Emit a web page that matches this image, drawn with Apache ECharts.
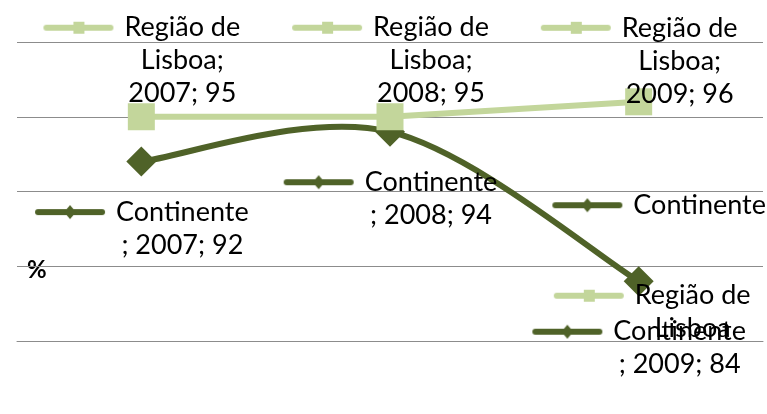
<!DOCTYPE html>
<html>
<head>
<meta charset="utf-8">
<script src="https://cdn.jsdelivr.net/npm/echarts@6/dist/echarts.min.js"></script>
<style>
  html, body { margin: 0; padding: 0; background: #fff; }
  #chart { width: 767px; height: 414px; }
</style>
</head>
<body>
<div id="chart"></div>
<script>
// Data
const years = ['2007', '2008', '2009'];
const lisboaName = 'Região de Lisboa';
const continenteName = 'Continente';
const lisboa = [95, 95, 96];
const continente = [92, 94, 84];
const yMin = 80, yMax = 100, yStep = 5;
const unitLabel = '%';

const lightGreen = '#c3d69b';
const darkGreen = '#4f6228';
const font = 'Lato, "Noto Sans", sans-serif';

// Small legend key (line with a marker) drawn on a canvas, used inside labels
function keyCanvas(color, shape) {
  const c = document.createElement('canvas');
  c.width = 82; c.height = 16;
  const g = c.getContext('2d');
  g.strokeStyle = color; g.fillStyle = color;
  g.lineWidth = 6; g.lineCap = 'round';
  g.beginPath(); g.moveTo(4, 8); g.lineTo(68, 8); g.stroke();
  if (shape === 'rect') {
    g.fillRect(31, 2, 11, 12);
  } else {
    g.beginPath();
    g.moveTo(36, 1); g.lineTo(42, 8); g.lineTo(36, 15); g.lineTo(30, 8);
    g.closePath(); g.fill();
  }
  return c;
}
const keyL = keyCanvas(lightGreen, 'rect');
const keyC = keyCanvas(darkGreen, 'diamond');

const textStyle = { fontFamily: font, fontSize: 27, color: '#000', lineHeight: 33, align: 'center' };
const rich = {
  kl: { width: 82, height: 16, align: 'center', backgroundColor: { image: keyL } },
  kc: { width: 82, height: 16, align: 'center', backgroundColor: { image: keyC } },
  s: { width: 82, height: 16, align: 'center' },
  t: textStyle
};

// "Região de Lisboa" -> "Região de" / "Lisboa"
const nameWords = lisboaName.split(' ');
const lisboaHead = nameWords.slice(0, 2).join(' ');
const lisboaTail = nameWords.slice(2).join(' ');

const lisboaFmt = p => `{kl|}{t|${lisboaHead}}\n{s|}{t|${lisboaTail};}\n{s|}{t|${p.name}; ${p.value}}`;
const contFmt = p => `{kc|}{t|${continenteName}}\n{s|}{t|; ${p.name}; ${p.value}}`;

const lisboaData = lisboa.map((v, i) => i === 2 ? { value: v, label: { offset: [0, 15] } } : v);

// Smoothed curve through the Continente points (cardinal spline, tension 1/6)
function renderSmooth(params, api) {
  const pts = continente.map((v, i) => api.coord([i, v]));
  const n = pts.length;
  let d = `M${pts[0][0]},${pts[0][1]}`;
  for (let i = 0; i < n - 1; i++) {
    const p0 = pts[Math.max(i - 1, 0)], p1 = pts[i], p2 = pts[i + 1], p3 = pts[Math.min(i + 2, n - 1)];
    const c1 = [p1[0] + (p2[0] - p0[0]) / 6, p1[1] + (p2[1] - p0[1]) / 6];
    const c2 = [p2[0] - (p3[0] - p1[0]) / 6, p2[1] - (p3[1] - p1[1]) / 6];
    d += ` C${c1[0]},${c1[1]} ${c2[0]},${c2[1]} ${p2[0]},${p2[1]}`;
  }
  return {
    type: 'path',
    shape: { pathData: d },
    style: { stroke: darkGreen, lineWidth: 6, fill: 'none', lineJoin: 'round' }
  };
}

const transparent = 'rgba(0,0,0,0)';

const chart = echarts.init(document.getElementById('chart'));
chart.setOption({
  animation: false,
  grid: { left: 17, right: 4, top: 42, bottom: 73 },
  xAxis: {
    type: 'category', data: years, boundaryGap: true,
    axisLine: { show: true, lineStyle: { color: '#8c8c8c', width: 1 } },
    axisTick: { show: false }, axisLabel: { show: false }
  },
  yAxis: {
    type: 'value', min: yMin, max: yMax, interval: yStep,
    axisLine: { show: false }, axisTick: { show: false }, axisLabel: { show: false },
    splitLine: { lineStyle: { color: '#8c8c8c', width: 1 } }
  },
  graphic: [{
    type: 'text', left: 27, top: 258,
    style: { text: unitLabel, fontFamily: font, fontSize: 24, fontWeight: 'bold', fill: '#000' }
  }],
  series: [
    {
      name: continenteName + ' curve', type: 'custom', data: [[0, continente[0]]],
      renderItem: renderSmooth, silent: true, z: 1
    },
    {
      name: continenteName, type: 'line', data: continente, z: 2,
      symbol: 'diamond', symbolSize: 30,
      lineStyle: { width: 0, opacity: 0 },
      itemStyle: { color: darkGreen },
      label: { show: true, position: 'bottom', distance: 19, formatter: contFmt, rich: rich },
      markPoint: {
        symbol: 'circle', symbolSize: 1, itemStyle: { color: transparent },
        data: [
          {
            coord: [2, continente[2]],
            label: { show: true, position: 'inside', offset: [20, -76],
              formatter: `{kc|}{t|${continenteName}}`, rich: rich }
          },
          {
            coord: [2, continente[2]],
            label: { show: true, position: 'inside', offset: [13, 31],
              formatter: `{kl|}{t|${lisboaHead}}\n{s|}{t|${lisboaTail}}`, rich: rich }
          }
        ]
      }
    },
    {
      name: lisboaName, type: 'line', data: lisboaData, z: 3,
      symbol: 'rect', symbolSize: 27,
      lineStyle: { color: lightGreen, width: 6 },
      itemStyle: { color: lightGreen },
      label: { show: true, position: 'top', distance: -7, formatter: lisboaFmt, rich: rich }
    }
  ]
});
</script>
</body>
</html>
